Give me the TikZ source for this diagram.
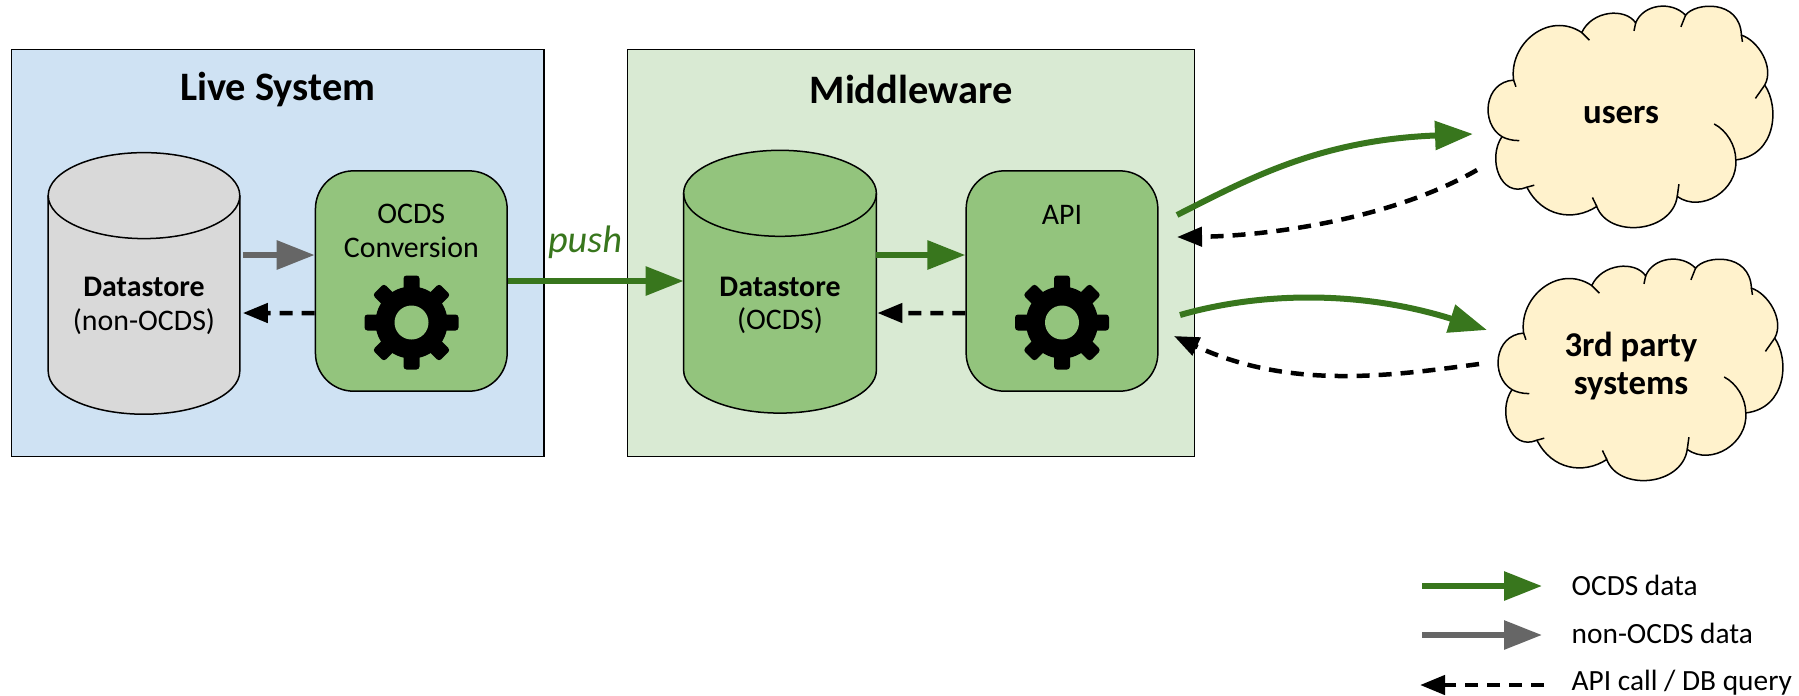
\documentclass[tikz,border=0pt]{standalone}
\usepackage{fontspec}
\setmainfont{Carlito}
\usetikzlibrary{arrows.meta}

\definecolor{liveblue}{HTML}{CFE2F3}
\definecolor{middlegreen}{HTML}{D9EAD3}
\definecolor{stepgreen}{HTML}{93C47D}
\definecolor{storegrey}{HTML}{D9D9D9}
\definecolor{cloudyellow}{HTML}{FFF2CC}
\definecolor{ocdsgreen}{HTML}{38761D}
\definecolor{nongrey}{HTML}{666666}

\newcommand{\drawstore}[3]{
\draw[fill=#2,line width=.015cm] ([yshift=-.43cm]#1.north west) -- ([yshift=.43cm]#1.south west)
arc[start angle=180,end angle=360,x radius=#3,y radius=.43] -- ([yshift=-.43cm]#1.north east)
arc[start angle=0,end angle=180,x radius=#3,y radius=.43] -- cycle;
\draw[line width=.015cm] ([yshift=-.43cm]#1.north west)
arc[start angle=180,end angle=360,x radius=#3,y radius=.43];
}

\tikzset{
gearicon/.pic={
\fill[black] (0,0) circle (.36);
\foreach \a in {0,45,...,315}
\fill[black,rotate=\a,rounded corners=.03cm] (-.08,.2) rectangle (.08,.47);
\fill[stepgreen] (0,0) circle (.17);
},
cloudicon/.pic={
\begin{scope}[x=0.003333cm,y=-0.003333cm,line width=.015cm]
\draw[fill=cloudyellow] (-350,-111)
.. controls (-365,-220) and (-245,-320) .. (-145,-254)
.. controls (-115,-320) and (-15,-330) .. (17,-283)
.. controls (40,-340) and (125,-350) .. (167,-306)
.. controls (195,-345) and (330,-355) .. (335,-246)
.. controls (385,-230) and (435,-150) .. (405,-96)
.. controls (450,-30) and (440,115) .. (318,129)
.. controls (325,220) and (215,290) .. (142,239)
.. controls (125,350) and (-65,365) .. (-100,269)
.. controls (-170,315) and (-265,300) .. (-310,211)
.. controls (-390,245) and (-430,125) .. (-385,59)
.. controls (-450,20) and (-440,-105) .. cycle;
\draw (-145,-254) -- (-122,-231);
\draw (-350,-111) -- (-343,-91);
\draw (17,-283) -- (12,-259);
\draw (153,-271) -- (167,-306);
\draw (335,-246) -- (338,-226);
\draw (405,-96) -- (377,-56);
\draw (253,21) .. controls (290,40) and (318,85) .. (318,129);
\draw (147,202) -- (142,239);
\draw (-113,242) -- (-100,269);
\draw (-288,205) -- (-310,211);
\draw (-333,71) .. controls (-355,71) and (-372,66) .. (-385,59);
\end{scope}
}
}

\begin{document}
\begin{tikzpicture}[
panel/.style={
draw,
line width=.015cm,
rectangle,
minimum height=4.074cm},
datastore/.style={
rectangle,
inner sep=0pt,
outer sep=0pt},
stepbox/.style={
draw,
fill=stepgreen,
line width=.015cm,
rectangle,
rounded corners=.38cm,
minimum width=1.917cm,
minimum height=2.203cm},
storetext/.style={
align=center,
inner sep=0pt,
font=\fontsize{8.5pt}{9.5pt}\selectfont},
caption/.style={
align=center,
inner sep=0pt,
font=\fontsize{8.5pt}{9.5pt}\selectfont},
title/.style={
inner sep=0pt,
font=\fontsize{11.5pt}{12pt}\selectfont\bfseries},
cloudtext/.style={
align=center,
inner sep=0pt,
font=\fontsize{9.9pt}{11pt}\selectfont\bfseries},
legend/.style={
anchor=base west,
inner sep=0pt,
font=\fontsize{8.35pt}{9pt}\selectfont},
ocdsline/.style={
draw=ocdsgreen,
line width=.06cm,
-{Triangle[length=.38cm,width=.28cm,fill=ocdsgreen]}},
nonline/.style={
draw=nongrey,
line width=.06cm,
-{Triangle[length=.38cm,width=.28cm,fill=nongrey]}},
queryline/.style={
draw=black,
line width=.045cm,
dash pattern=on .13cm off .09cm,
-{Triangle[length=.25cm,width=.19cm,fill=black]}}
]

\useasboundingbox (0,0) rectangle (17.99,-6.95);

\node[panel,fill=liveblue,minimum width=5.324cm] (livebox) at (2.777,-2.53) {};
\node[panel,fill=middlegreen,minimum width=5.669cm] (middlebox) at (9.11,-2.53) {};
\node[title] (livetitle) at (2.777,-.895) {Live System};
\node[title] (middletitle) at (9.11,-.895) {Middleware};

\node[datastore,minimum width=1.916cm,minimum height=2.616cm] (livestore) at (1.44,-2.834) {};
\node[datastore,minimum width=1.928cm,minimum height=2.628cm] (middlestore) at (7.80,-2.817) {};
\drawstore{livestore}{storegrey}{.958}
\drawstore{middlestore}{stepgreen}{.964}
\node[storetext] (livestoretext) at (1.44,-3.06) {\textbf{Datastore}\\(non-OCDS)};
\node[storetext] (middlestoretext) at (7.80,-3.055) {\textbf{Datastore}\\(OCDS)};

\node[stepbox] (convbox) at (4.113,-2.81) {};
\node[stepbox] (apibox) at (10.62,-2.81) {};
\node[caption] (convtext) at (4.113,-2.31) {OCDS\\Conversion};
\node[caption] (apitext) at (10.62,-2.15) {API};
\pic at (4.115,-3.225) {gearicon};
\pic at (10.62,-3.225) {gearicon};

\pic at (16.30,-1.17) {cloudicon};
\pic at (16.40,-3.70) {cloudicon};
\node[cloudtext] (users) at (16.21,-1.15) {users};
\node[cloudtext] (parties) at (16.31,-3.66) {3rd party\\systems};

\draw[nonline] ([shift={(.03,.26)}]livestore.east |- convbox.west) -- ([yshift=.26cm]convbox.west);
\draw[queryline] ([yshift=-.32cm]convbox.west) -- ([shift={(.03,-.32)}]livestore.east |- convbox.west);
\draw[ocdsline] (convbox.east) -- (convbox.east -| middlestore.west);
\node[inner sep=0pt,text=ocdsgreen,font=\fontsize{10.9pt}{12pt}\selectfont\itshape] (pushtext) at (5.85,-2.42) {push};
\draw[ocdsline] ([yshift=.26cm]middlestore.east |- apibox.west) -- ([yshift=.26cm]apibox.west);
\draw[queryline] ([yshift=-.32cm]apibox.west) -- ([shift={(.01,-.32)}]middlestore.east |- apibox.west);

\coordinate (apiup) at (11.77,-2.15);
\coordinate (apiupback) at (11.77,-2.37);
\coordinate (apidown) at (11.80,-3.15);
\coordinate (apidownback) at (11.74,-3.36);
\coordinate (usersin) at (14.73,-1.34);
\coordinate (usersout) at (14.77,-1.70);
\coordinate (partiesin) at (14.87,-3.30);
\coordinate (partiesout) at (14.79,-3.64);

\draw[ocdsline] (apiup) .. controls (12.5,-1.78) and (13.2,-1.40) .. (usersin);
\draw[queryline] (usersout) .. controls (13.9,-2.2) and (12.66,-2.36) .. (apiupback);
\draw[ocdsline] (apidown) .. controls (12.6,-2.92) and (13.6,-2.9) .. (partiesin);
\draw[queryline] (partiesout) .. controls (13.9,-3.76) and (12.9,-3.9) .. (apidownback);

\node[legend] (legendocds) at (15.71,-5.95) {OCDS data};
\node[legend] (legendnon) at (15.71,-6.43) {non-OCDS data};
\node[legend] (legendquery) at (15.71,-6.90) {API call / DB query};
\draw[ocdsline] ([shift={(-1.49,.09)}]legendocds.base west) -- ([shift={(-.29,.09)}]legendocds.base west);
\draw[nonline] ([shift={(-1.49,.08)}]legendnon.base west) -- ([shift={(-.29,.08)}]legendnon.base west);
\draw[queryline] ([shift={(-.27,.05)}]legendquery.base west) -- ([shift={(-1.51,.05)}]legendquery.base west);

\end{tikzpicture}
\end{document}
